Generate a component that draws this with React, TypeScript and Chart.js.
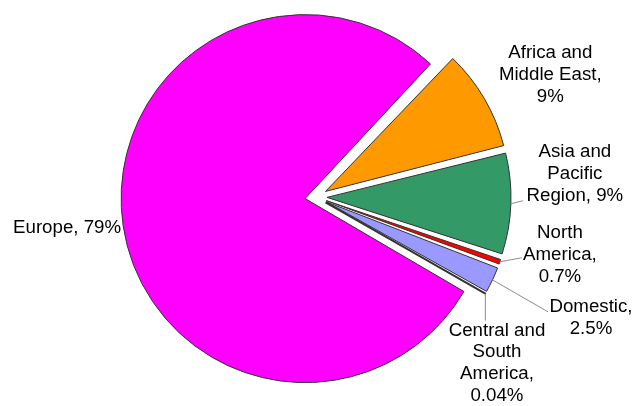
import React, { useEffect, useRef } from 'react';
import { Chart, registerables } from 'chart.js';

Chart.register(...registerables);

const categories = [
  'Africa and Middle East',
  'Asia and Pacific Region',
  'North America',
  'Domestic',
  'Central and South America',
  'Europe',
];
const shares = [9, 9, 0.7, 2.5, 0.04, 79];
const sliceColors = ['#FF9900', '#339966', '#FF0000', '#9999FF', '#000080', '#FF00FF'];
const sliceBorderWidths = [1, 1, 1, 1, 2, 1];
const labelLines = [
  ['Africa and', 'Middle East,', '9%'],
  ['Asia and', 'Pacific', 'Region, 9%'],
  ['North', 'America,', '0.7%'],
  ['Domestic,', '2.5%'],
  ['Central and', 'South', 'America,', '0.04%'],
  ['Europe, 79%'],
];

const FONT = '18.7px "Liberation Sans", Arial, sans-serif';
const LINE_H = 21.7;
const OFFSET = 44; // Chart.js translates each slice by offset / 4
const RADIUS = 184;

// label placement relative to the slice anchor (outer edge of exploded slice at its mid angle)
const labelPlacement: { dx: number; dy: number; align: CanvasTextAlign; leader: number[] | null }[] = [
  { dx: 66, dy: -23.5, align: 'center', leader: null },
  { dx: 64, dy: -30, align: 'center', leader: [12, -3] },
  { dx: 60, dy: -7, align: 'center', leader: [22, -4] },
  { dx: 98.5, dy: 37.7, align: 'center', leader: [55.5, 32] },
  { dx: 11.6, dy: 69.4, align: 'center', leader: [0, 27] },
  { dx: -2, dy: 2.5, align: 'right', leader: null },
];

const equalRadiusPlugin = {
  id: 'equalRadius',
  afterDatasetUpdate(chart: any, args: any) {
    const meta = args.meta;
    const R = meta.controller.outerRadius;
    meta.data.forEach((el: any) => {
      const circ = el.circumference || 0;
      const fix = 1 - Math.sin(Math.min(Math.PI, circ));
      el.outerRadius = R - (OFFSET / 4) * fix;
    });
  },
};

const sliceLabelPlugin = {
  id: 'sliceLabels',
  afterDraw(chart: any) {
    const ctx = chart.ctx as CanvasRenderingContext2D;
    const meta = chart.getDatasetMeta(0);
    const R = meta.controller.outerRadius;
    const t = OFFSET / 4;
    ctx.save();
    ctx.font = FONT;
    ctx.fillStyle = '#000000';
    ctx.textBaseline = 'middle';
    meta.data.forEach((el: any, i: number) => {
      const mid = (el.startAngle + el.endAngle) / 2;
      const ax = el.x + (R + t) * Math.cos(mid);
      const ay = el.y + (R + t) * Math.sin(mid);
      const p = labelPlacement[i];
      if (p.leader) {
        ctx.strokeStyle = '#8c8c8c';
        ctx.lineWidth = 1;
        ctx.beginPath();
        ctx.moveTo(ax, ay);
        ctx.lineTo(ax + p.leader[0], ay + p.leader[1]);
        ctx.stroke();
      }
      const lines = labelLines[i];
      const cx = ax + p.dx;
      const cy = ay + p.dy;
      ctx.textAlign = p.align;
      lines.forEach((line, k) => {
        const y = cy + (k - (lines.length - 1) / 2) * LINE_H;
        ctx.fillText(line, cx, y);
      });
    });
    ctx.restore();
  },
};

export default function App() {
  const canvasRef = useRef<HTMLCanvasElement | null>(null);

  useEffect(() => {
    const canvas = canvasRef.current;
    if (!canvas) return;
    const chart = new Chart(canvas, {
      type: 'pie',
      data: {
        labels: categories,
        datasets: [
          {
            data: shares,
            backgroundColor: sliceColors,
            borderColor: '#333333',
            borderWidth: sliceBorderWidths,
            offset: OFFSET,
          },
        ],
      },
      options: {
        responsive: false,
        animation: false,
        events: [],
        rotation: 43.5,
        radius: RADIUS,
        layout: { padding: { left: 0, right: 3, top: 0, bottom: 12 } },
        plugins: {
          legend: { display: false },
          tooltip: { enabled: false },
        },
      },
      plugins: [equalRadiusPlugin, sliceLabelPlugin],
    });
    return () => chart.destroy();
  }, []);

  return (
    <div style={{ position: 'fixed', left: 0, top: 0, width: 635, height: 406, background: '#ffffff' }}>
      <canvas ref={canvasRef} width={635} height={406} style={{ display: 'block' }} />
    </div>
  );
}
